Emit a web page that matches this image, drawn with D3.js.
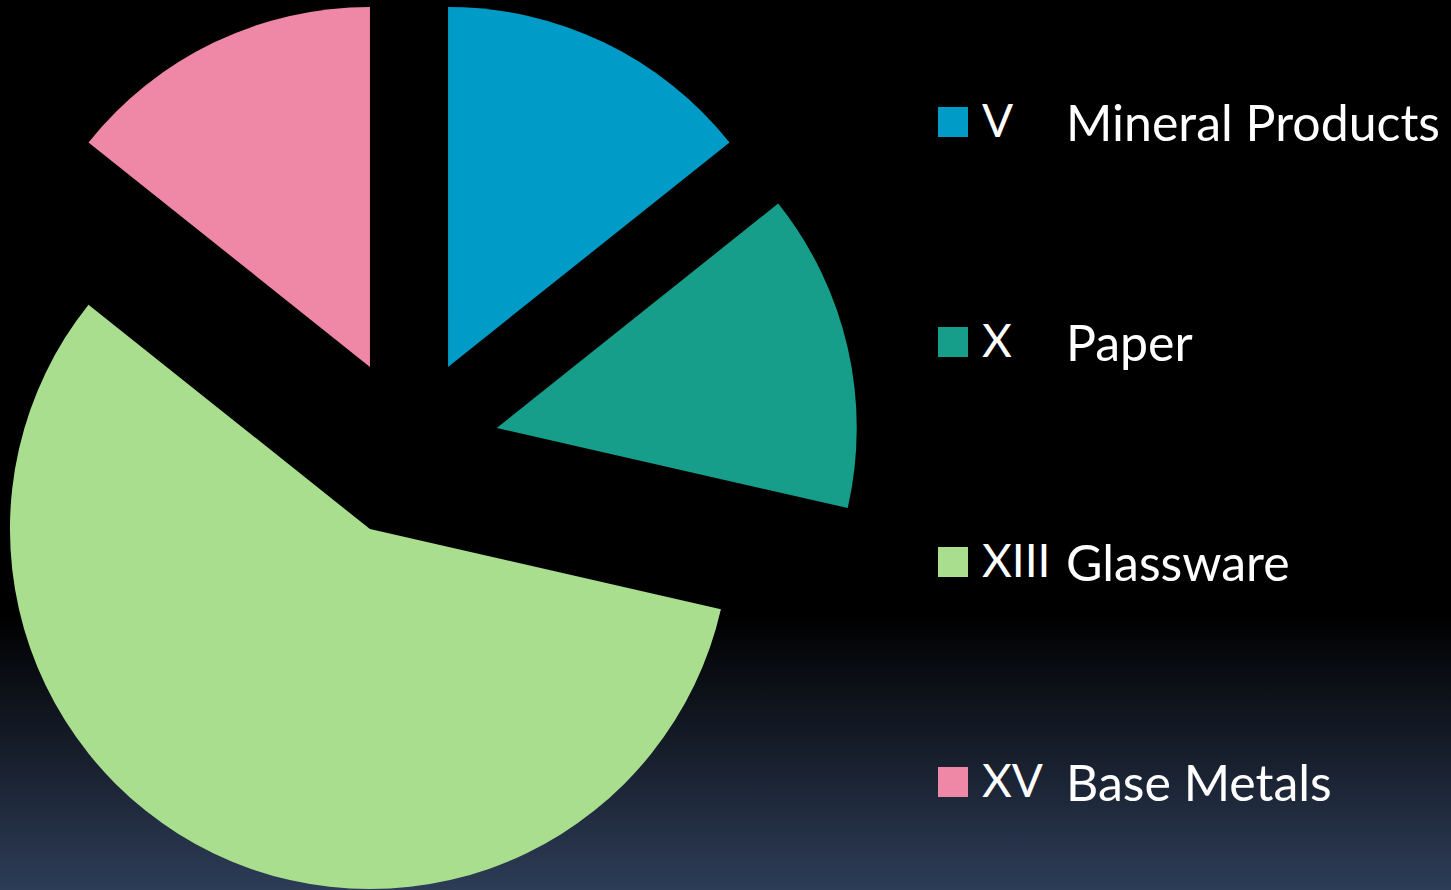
<!DOCTYPE html>
<html>
<head>
<meta charset="utf-8">
<script src="https://cdn.jsdelivr.net/npm/d3@7"></script>
<style>
  html, body { margin: 0; padding: 0; background: #000; }
  svg { display: block; }
</style>
</head>
<body>
<script>
const numerals = ['V', 'X', 'XIII', 'XV'];
const labels = ['Mineral Products', 'Paper', 'Glassware', 'Base Metals'];
const values = [1, 1, 4, 1];
const colors = ['#009bc6', '#179e8b', '#a9de8e', '#ef88a7'];

const width = 1451;
const height = 890;
const radius = 360;
const explode = 90;

const svg = d3.select('body')
  .append('svg')
  .attr('width', width)
  .attr('height', height);

// background: black fading to dark navy at the bottom
const grad = svg.append('defs')
  .append('linearGradient')
  .attr('id', 'bg')
  .attr('x1', 0).attr('y1', 0).attr('x2', 0).attr('y2', 1);
grad.append('stop').attr('offset', 0).attr('stop-color', '#000');
grad.append('stop').attr('offset', 0.69).attr('stop-color', '#000');
grad.append('stop').attr('offset', 1).attr('stop-color', '#2d3c57');

svg.append('rect')
  .attr('width', width)
  .attr('height', height)
  .attr('fill', 'url(#bg)');

const data = values.map((v, i) => ({ value: v, numeral: numerals[i], label: labels[i], color: colors[i] }));

const pie = d3.pie()
  .sort(null)
  .value((d) => d.value);

const arc = d3.arc()
  .innerRadius(0)
  .outerRadius(radius);

const g = svg.append('g')
  .attr('transform', `translate(409,448)`);

g.selectAll('path')
  .data(pie(data))
  .enter()
  .append('path')
  .attr('d', arc)
  .attr('fill', (d) => d.data.color)
  .attr('transform', (d) => {
    const a = (d.startAngle + d.endAngle) / 2;
    return `translate(${Math.sin(a) * explode},${-Math.cos(a) * explode})`;
  });

// legend
const y = d3.scalePoint()
  .domain(labels)
  .range([107, 767]);

const legend = svg.selectAll('.legend')
  .data(data)
  .enter()
  .append('g')
  .attr('class', 'legend')
  .attr('transform', (d) => `translate(938,${y(d.label)})`);

legend.append('rect')
  .attr('width', 30)
  .attr('height', 30)
  .attr('fill', (d) => d.color);

legend.append('text')
  .attr('x', 44)
  .attr('y', 30)
  .attr('fill', '#fff')
  .style('font-family', 'Lato, sans-serif')
  .style('font-size', '46px')
  .text((d) => d.numeral);

legend.append('text')
  .attr('x', 128)
  .attr('y', 34)
  .attr('fill', '#fff')
  .style('font-family', 'Lato, sans-serif')
  .style('font-size', '50px')
  .text((d) => d.label);
</script>
</body>
</html>
